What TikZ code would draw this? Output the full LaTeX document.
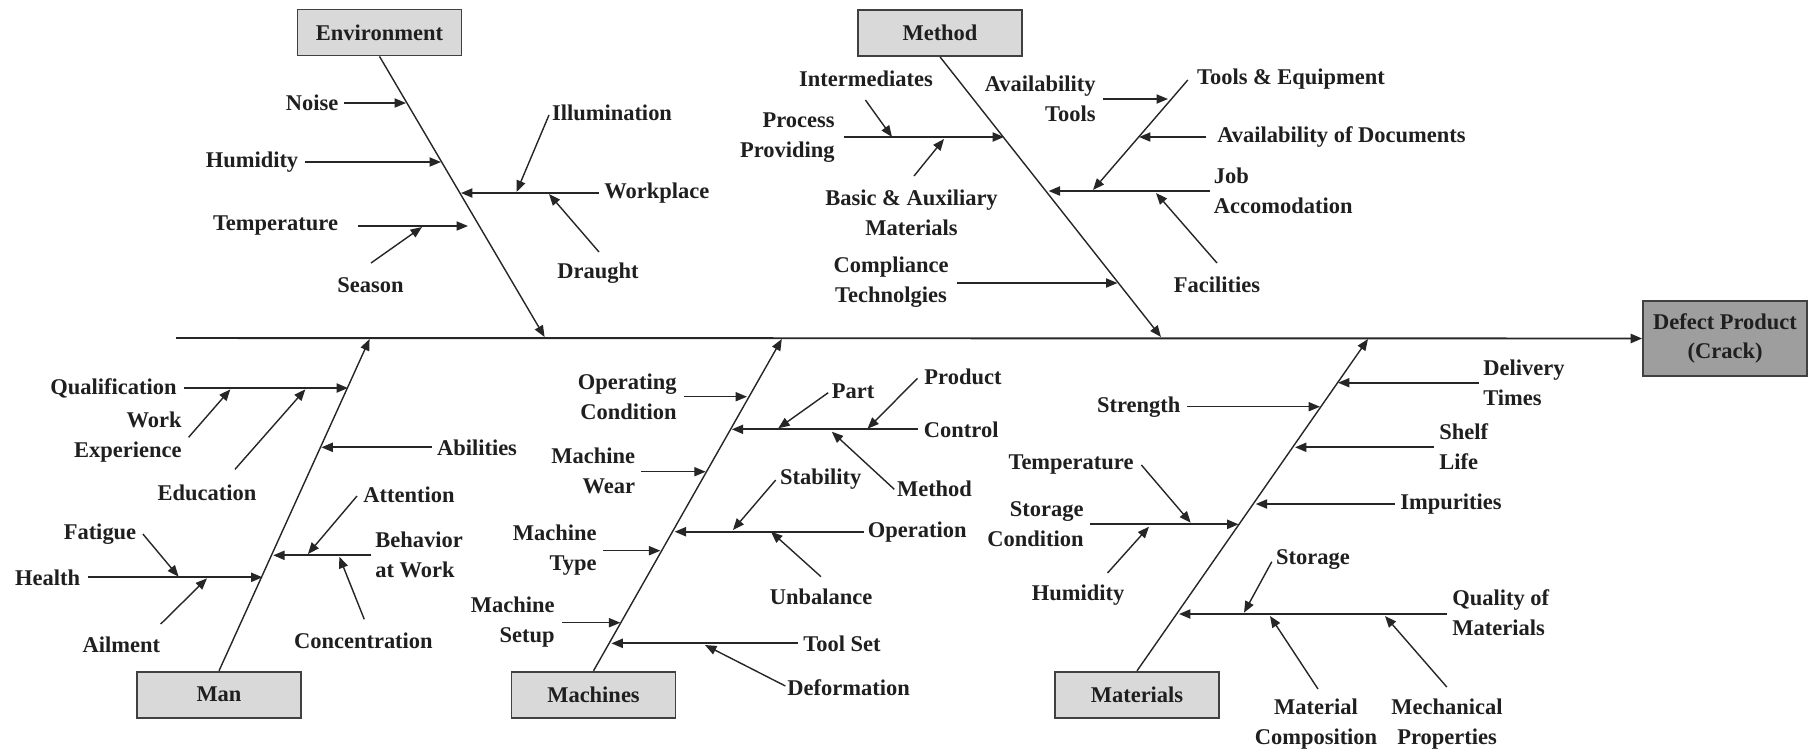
\documentclass[tikz,border=0pt]{standalone}
\usepackage{fontspec}
\setmainfont{Liberation Serif}
\usetikzlibrary{arrows.meta}
\newcommand\fbconn[4][arr]{\coordinate (#2-s) at (#3); \coordinate (#2-e) at (#4); \draw[#1] (#2-s) -- (#2-e);}
\begin{document}
\begin{tikzpicture}[x=0.02cm,y=-0.02cm,
  lbl/.style={font=\fontsize{12.8}{17}\selectfont\bfseries, inner sep=0pt, text=black!88},
  cat/.style={lbl, draw=black!75, fill=black!15, line width=1pt, minimum width=3.28cm, minimum height=0.92cm},
  arr/.style={-{Triangle[length=6.5pt,width=5.2pt]}, line width=0.8pt, draw=black!85},
  harr/.style={arr, line width=1pt},
  bonearr/.style={arr, line width=0.8pt}]
\useasboundingbox (0,0) rectangle (1814,755);
% spine and effect
\node[cat, fill=black!38, minimum height=1.5cm, align=center] (defect) at (1725,338.5) {Defect Product\\(Crack)};
\coordinate (spineS) at (176,338);
\draw[arr, line width=1.1pt] (spineS) -- (defect.west);
% category boxes
\node[cat] (env) at (379.5,32.5) {Environment};
\node[cat] (meth) at (940,33) {Method};
\node[cat] (man) at (219,694.7) {Man};
\node[cat] (mach) at (593.5,694.7) {Machines};
\node[cat] (mat) at (1137,694.7) {Materials};
\coordinate (envT) at (544.6,337);
\coordinate (methT) at (1161,337);
\coordinate (manT) at (369.6,339);
\coordinate (machT) at (781.8,339);
\coordinate (matT) at (1368,339);
\draw[bonearr] (env.south) -- (envT);
\draw[bonearr] (meth.south) -- (methT);
\draw[bonearr] (man.north) -- (manT);
\draw[bonearr] (mach.north) -- (machT);
\draw[bonearr] (mat.north) -- (matT);
% ===== Environment
\node[lbl] (noise) at (312,103) {Noise};
\fbconn{noise}{344,103}{406,103}
\node[lbl] (hum1) at (252,162) {Humidity};
\fbconn{hum1}{305,162}{441,162}
\node[lbl, anchor=west] (workp) at (604,193) {Workplace};
\fbconn[harr]{workp}{599,193}{461,193}
\node[lbl] (illum) at (612,113) {Illumination};
\fbconn{illum}{549,115}{516.5,192}
\node[lbl] (draught) at (598,273) {Draught};
\fbconn{draught}{599,252}{549,194}
\node[lbl] (temp1) at (275.5,226) {Temperature};
\fbconn{temp1}{358,226}{468,226}
\node[lbl] (season) at (370.5,285) {Season};
\fbconn{season}{371,263}{422,227}
% ===== Method
\node[lbl] (inter) at (866,79) {Intermediates};
\fbconn{inter}{865.4,100}{892,137}
\node[lbl, anchor=east, align=right] (procp) at (835,138) {Process\\Providing};
\fbconn[harr]{procp}{843.6,137}{1004,137}
\node[lbl, align=center] (basic) at (911.5,212.5) {Basic \& Auxiliary\\Materials};
\fbconn{basic}{914,176}{944,139}
\node[lbl, align=center] (compl) at (891,282) {Compliance\\Technolgies};
\fbconn{compl}{956.5,283}{1117.5,283}
\node[lbl, anchor=east, align=right] (avtools) at (1096,99) {Availability\\Tools};
\fbconn{avtools}{1103,99}{1168,99}
\node[lbl] (toolseq) at (1291,79) {Tools \& Equipment};
\fbconn{toolseq}{1187.8,80}{1093,190}
\node[lbl] (avdoc) at (1341.5,137) {Availability of Documents};
\fbconn{avdoc}{1206,137}{1139,137}
\node[lbl, anchor=west, align=left] (jobacc) at (1213.5,190.5) {Job\\Accomodation};
\fbconn[harr]{jobacc}{1209.6,191}{1048.6,191}
\node[lbl] (facil) at (1217,285) {Facilities};
\fbconn{facil}{1217,263}{1156,193}
% ===== Man
\node[lbl] (qual) at (113.4,388.3) {Qualification};
\fbconn[harr]{qual}{184,388}{348,388}
\node[lbl, anchor=east, align=right] (workexp) at (182,437) {Work\\Experience};
\fbconn{workexp}{188.6,437.3}{230.4,389.3}
\node[lbl] (educ) at (207,492.7) {Education};
\fbconn{educ}{235,469.3}{305.4,389.3}
\node[lbl] (abil) at (477,447.3) {Abilities};
\fbconn[harr]{abil}{432,447.3}{321.4,447.3}
\node[lbl, anchor=west, align=left] (behav) at (375,555) {Behavior\\at Work};
\fbconn[harr]{behav}{371.4,555.3}{273.2,555.3}
\node[lbl] (atten) at (409,495) {Attention};
\fbconn{atten}{357,496}{307.9,554}
\node[lbl] (concen) at (363.4,640.7) {Concentration};
\fbconn{concen}{364.3,619.3}{339.3,556.7}
\node[lbl] (health) at (47.7,577.3) {Health};
\fbconn[harr]{health}{87.5,577.3}{262.5,577.3}
\node[lbl] (fatig) at (100,534) {Fatigue};
\fbconn{fatig}{142.9,534}{178.6,576.7}
\node[lbl] (ailm) at (121.4,645) {Ailment};
\fbconn{ailm}{160.7,624}{207,578.3}
% ===== Machines
\node[lbl, anchor=east, align=right] (opcond) at (677,396.5) {Operating\\Condition};
\fbconn{opcond}{683.6,396.7}{747,396.7}
\node[lbl, anchor=west] (control) at (923.6,429.3) {Control};
\fbconn[harr]{control}{917.5,429.3}{731.8,429.3}
\node[lbl] (part) at (853,391.7) {Part};
\fbconn{part}{828.2,392.7}{778.2,428.3}
\node[lbl] (product) at (963,377.3) {Product};
\fbconn{product}{917.5,378.3}{867.5,428.7}
\node[lbl] (methodm) at (934.5,488.3) {Method};
\fbconn{methodm}{894.3,489.3}{831.8,431.7}
\node[lbl, anchor=east, align=right] (mwear) at (635.4,471) {Machine\\Wear};
\fbconn{mwear}{641.4,471.7}{705.7,471.7}
\node[lbl, anchor=west] (operat) at (867.5,531.7) {Operation};
\fbconn[harr]{operat}{864,531.7}{674.6,531.7}
\node[lbl] (stabil) at (820.7,479.3) {Stability};
\fbconn{stabil}{775.7,480}{732.9,530}
\node[lbl] (unbal) at (821,596.7) {Unbalance};
\fbconn{unbal}{821,576.7}{771,531.7}
\node[lbl, anchor=east, align=right] (mtype) at (597,550) {Machine\\Type};
\fbconn{mtype}{603.2,550.7}{660.4,550.7}
\node[lbl, anchor=east, align=right] (msetup) at (555,622) {Machine\\Setup};
\fbconn{msetup}{562,622.7}{620.4,622.7}
\node[lbl, anchor=west] (toolset) at (803,643.3) {Tool Set};
\fbconn[harr]{toolset}{797.9,643.3}{611.4,643.3}
\node[lbl] (deform) at (848.6,687.3) {Deformation};
\fbconn{deform}{785.4,686}{705,645}
% ===== Materials
\node[lbl, anchor=west, align=left] (deliv) at (1483,382.5) {Delivery\\Times};
\fbconn[harr]{deliv}{1479,382.7}{1338,382.7}
\node[lbl] (strength) at (1138.8,406.7) {Strength};
\fbconn{strength}{1187,406.7}{1320,406.7}
\node[lbl, anchor=west, align=left] (shelf) at (1439,446.7) {Shelf\\Life};
\fbconn[harr]{shelf}{1434,447.3}{1295,447.3}
\node[lbl] (impur) at (1451,504) {Impurities};
\fbconn[harr]{impur}{1395,504}{1255.7,504}
\node[lbl, anchor=east, align=right] (storcond) at (1084,524) {Storage\\Condition};
\fbconn[harr]{storcond}{1089.6,524.3}{1238.6,524.3}
\node[lbl] (temp2) at (1071,465) {Temperature};
\fbconn{temp2}{1141.4,465}{1190.7,522.7}
\node[lbl] (hum2) at (1078,595) {Humidity};
\fbconn{hum2}{1107.5,573}{1149,526.7}
\node[lbl, anchor=west, align=left] (qualmat) at (1452,612.5) {Quality of\\Materials};
\fbconn[harr]{qualmat}{1446.8,614}{1179,614}
\node[lbl] (storage) at (1313,560) {Storage};
\fbconn{storage}{1271.8,561.7}{1244,612.7}
\node[lbl, align=center] (matcomp) at (1316,724) {Material\\Composition};
\fbconn{matcomp}{1318,689}{1270,616}
\node[lbl, align=center] (mechprop) at (1447,724) {Mechanical\\Properties};
\fbconn{mechprop}{1446.8,687}{1385,616}
\end{tikzpicture}
\end{document}
